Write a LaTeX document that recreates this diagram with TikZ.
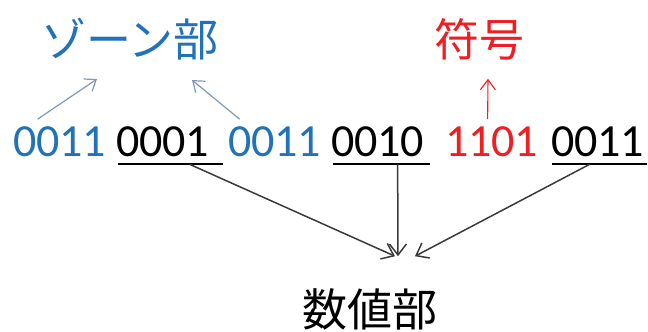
\documentclass[tikz,border=0pt]{standalone}
\usepackage{fontspec}
\usepackage{xcolor}
\usetikzlibrary{arrows.meta}
\newfontfamily\jpfont{Noto Sans CJK JP}
\newfontfamily\digitfont{Carlito}
\definecolor{ZoneBlue}{HTML}{2272B9}
\definecolor{SignRed}{HTML}{F01E23}
\definecolor{ZoneArrow}{HTML}{7F98B8}
\definecolor{LinkGrey}{HTML}{3A3A3A}
\tikzset{
  bits/.style={inner sep=0pt, outer sep=0pt, anchor=base west, font=\digitfont\fontsize{46}{54}\selectfont},
  tagtext/.style={inner sep=0pt, outer sep=0pt, font=\jpfont\fontsize{45}{54}\selectfont},
  uline/.style={line width=1.5pt, draw=black},
  zonearrow/.style={-{Straight Barb[length=10pt,width=15pt]}, line width=1.2pt, draw=ZoneArrow},
  signarrow/.style={-{Straight Barb[length=10pt,width=15pt]}, line width=1.1pt, draw=SignRed},
  valuearrow/.style={-{Straight Barb[length=11pt,width=17pt]}, line width=1.5pt, draw=LinkGrey}
}
\begin{document}
\begin{tikzpicture}[x=1pt, y=1pt]
    \useasboundingbox (0,0) rectangle (648,332);
    \node[bits, text=ZoneBlue] (zoneA) at (13,175) {0011};
    \node[bits] (digitA) at (116,175) {0001};
    \node[bits, text=ZoneBlue] (zoneB) at (228,175) {0011};
    \node[bits] (digitB) at (331,175) {0010};
    \node[bits, text=SignRed] (signbits) at (445,175) {1101};
    \node[bits] (digitC) at (551,175) {0011};

    \node[tagtext, text=ZoneBlue] (zone) at (130,293) {ゾーン部};
    \node[tagtext, text=SignRed] (sign) at (479,293) {符号};
    \node[tagtext] (value) at (370,23) {数値部};

    \draw[uline] ([xshift=2pt,yshift=-7pt]digitA.base west) -- ([xshift=14pt,yshift=-7pt]digitA.base east);
    \draw[uline] ([xshift=2pt,yshift=-7pt]digitB.base west) -- ([xshift=6pt,yshift=-7pt]digitB.base east);
    \draw[uline] ([xshift=1pt,yshift=-7pt]digitC.base west) -- ([xshift=3pt,yshift=-7pt]digitC.base east);

    \draw[zonearrow] ([xshift=-22pt,yshift=8pt]zoneA.north) -- ([xshift=-33pt,yshift=-19pt]zone.south);
    \draw[zonearrow] ([xshift=-35pt,yshift=8pt]zoneB.north) -- ([xshift=62pt,yshift=-20pt]zone.south);
    \draw[signarrow] ([xshift=-4pt,yshift=8pt]signbits.north) -- ([xshift=9pt,yshift=-19pt]sign.south);

    \draw[valuearrow] ([xshift=27pt,yshift=-7pt]digitA.south) -- ([xshift=25pt,yshift=32pt]value.north);
    \draw[valuearrow] ([xshift=20pt,yshift=-7pt]digitB.south) -- ([xshift=28pt,yshift=32pt]value.north);
    \draw[valuearrow] ([xshift=-8pt,yshift=-7pt]digitC.south) -- ([xshift=45pt,yshift=32pt]value.north);
\end{tikzpicture}
\end{document}
